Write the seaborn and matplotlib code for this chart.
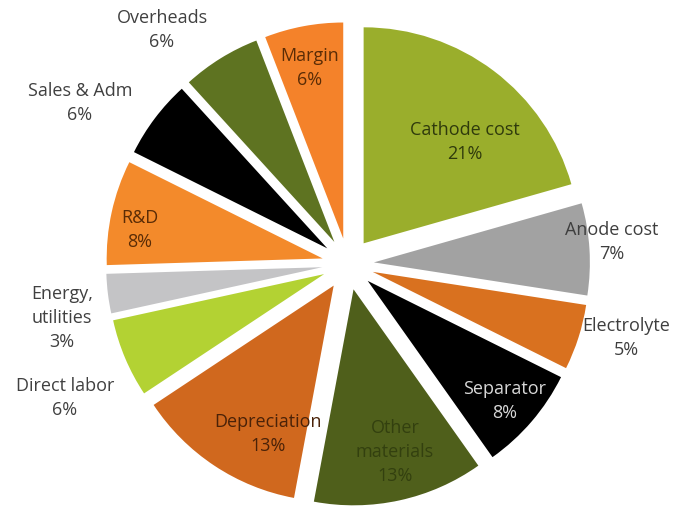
import matplotlib
matplotlib.use("Agg")
import matplotlib.pyplot as plt
import seaborn as sns

# Cost breakdown of a battery cell (share of total cost, %)
categories = ["Cathode cost", "Anode cost", "Electrolyte", "Separator",
              "Other materials", "Depreciation", "Direct labor",
              "Energy, utilities", "R&D", "Sales & Adm", "Overheads", "Margin"]
shares = [21, 7, 5, 8, 13, 13, 6, 3, 8, 6, 6, 6]
label_texts = ["Cathode cost", "Anode cost", "Electrolyte", "Separator",
               "Other\nmaterials", "Depreciation", "Direct labor",
               "Energy,\nutilities", "R&D", "Sales & Adm", "Overheads", "Margin"]

slice_colors = ["#9AAE2C", "#A2A2A2", "#D9711F", "#000000",
                "#4F5F1B", "#D0681E", "#B3D233", "#C4C4C6",
                "#F38A2B", "#000000", "#5E7321", "#F4822A"]
text_colors = ["#2F3A0C", "#3E3E3E", "#3E3E3E", "#D8D8D8",
               "#33400F", "#4A2208", "#404040", "#404040",
               "#5A2C06", "#404040", "#404040", "#5A2C06"]

# label anchor points, in pixels from the top-left corner of the figure
label_px = [(465, 142), (612, 242), (626, 338), (505, 401),
            (395, 452), (268, 434), (65, 398), (62, 318),
            (140, 230), (80, 103), (162, 30), (310, 68)]

W, H, DPI = 676, 508, 100
CX, CY, RPX = 348, 264, 216   # pie centre and radius in pixels

sns.set_theme(style="white")
plt.rcParams["font.family"] = ["Open Sans", "DejaVu Sans"]

fig = plt.figure(figsize=(W / DPI, H / DPI), dpi=DPI)
ax = fig.add_axes([0, 0, 1, 1])

ax.pie(shares, colors=slice_colors, startangle=90, counterclock=False,
       explode=[0.12] * len(shares), radius=1.0,
       wedgeprops=dict(linewidth=0))

for text, share, col, (px, py) in zip(label_texts, shares, text_colors, label_px):
    ax.text((px - CX) / RPX, (CY - py) / RPX, f"{text}\n{share}%",
            ha="center", va="center", fontsize=13, color=col,
            linespacing=1.45)

ax.set_xlim(-CX / RPX, (W - CX) / RPX)
ax.set_ylim(-(H - CY) / RPX, CY / RPX)
ax.set_aspect("auto")
ax.axis("off")
fig.patch.set_facecolor("white")

fig.savefig("out.png", dpi=DPI, facecolor="white")
